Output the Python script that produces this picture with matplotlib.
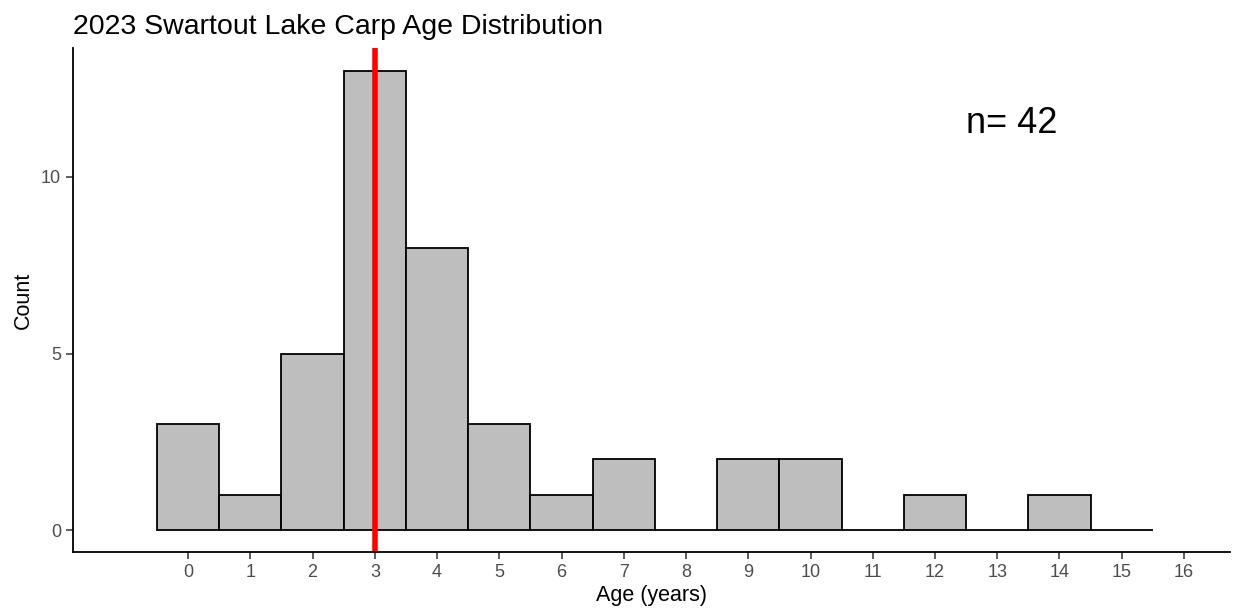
import numpy as np
import matplotlib.pyplot as plt

plt.rcParams['font.family'] = ['Liberation Sans', 'DejaVu Sans']

# Age frequencies
ages = [0, 1, 2, 3, 4, 5, 6, 7, 8, 9, 10, 11, 12, 13, 14, 15]
counts = [3, 1, 5, 13, 8, 3, 1, 2, 0, 2, 2, 0, 1, 0, 1, 0]
median_age = 3
n_fish = 42

fig = plt.figure(figsize=(12.38, 6.15), dpi=100)
ax = fig.add_axes([73 / 1238, 63 / 615, (1230 - 73) / 1238, (552 - 48) / 615])

ax.bar(ages, counts, width=1.0, color='#bebebe', edgecolor='black', linewidth=1.3)
ax.axvline(median_age, color='red', linewidth=4)

ax.text(12.5, 11.5, f'n= {n_fish}', fontsize=26, ha='left', va='center')

ax.set_xlim(-1.85, 16.74)
ax.set_ylim(-0.62, 13.65)
ax.set_xticks(range(0, 17))
ax.set_yticks([0, 5, 10])

for s in ['top', 'right']:
    ax.spines[s].set_visible(False)
for s in ['left', 'bottom']:
    ax.spines[s].set_linewidth(1.3)

ax.tick_params(axis='both', colors='#333333', labelcolor='#4d4d4d', labelsize=13, length=5, width=1.1)

ax.set_xlabel('Age (years)', fontsize=15.5, labelpad=3)
ax.set_ylabel('Count', fontsize=15.5, labelpad=5)
ax.set_title('2023 Swartout Lake Carp Age Distribution', fontsize=20.5, loc='left', x=0, pad=10)

plt.savefig('out.png', dpi=100)
